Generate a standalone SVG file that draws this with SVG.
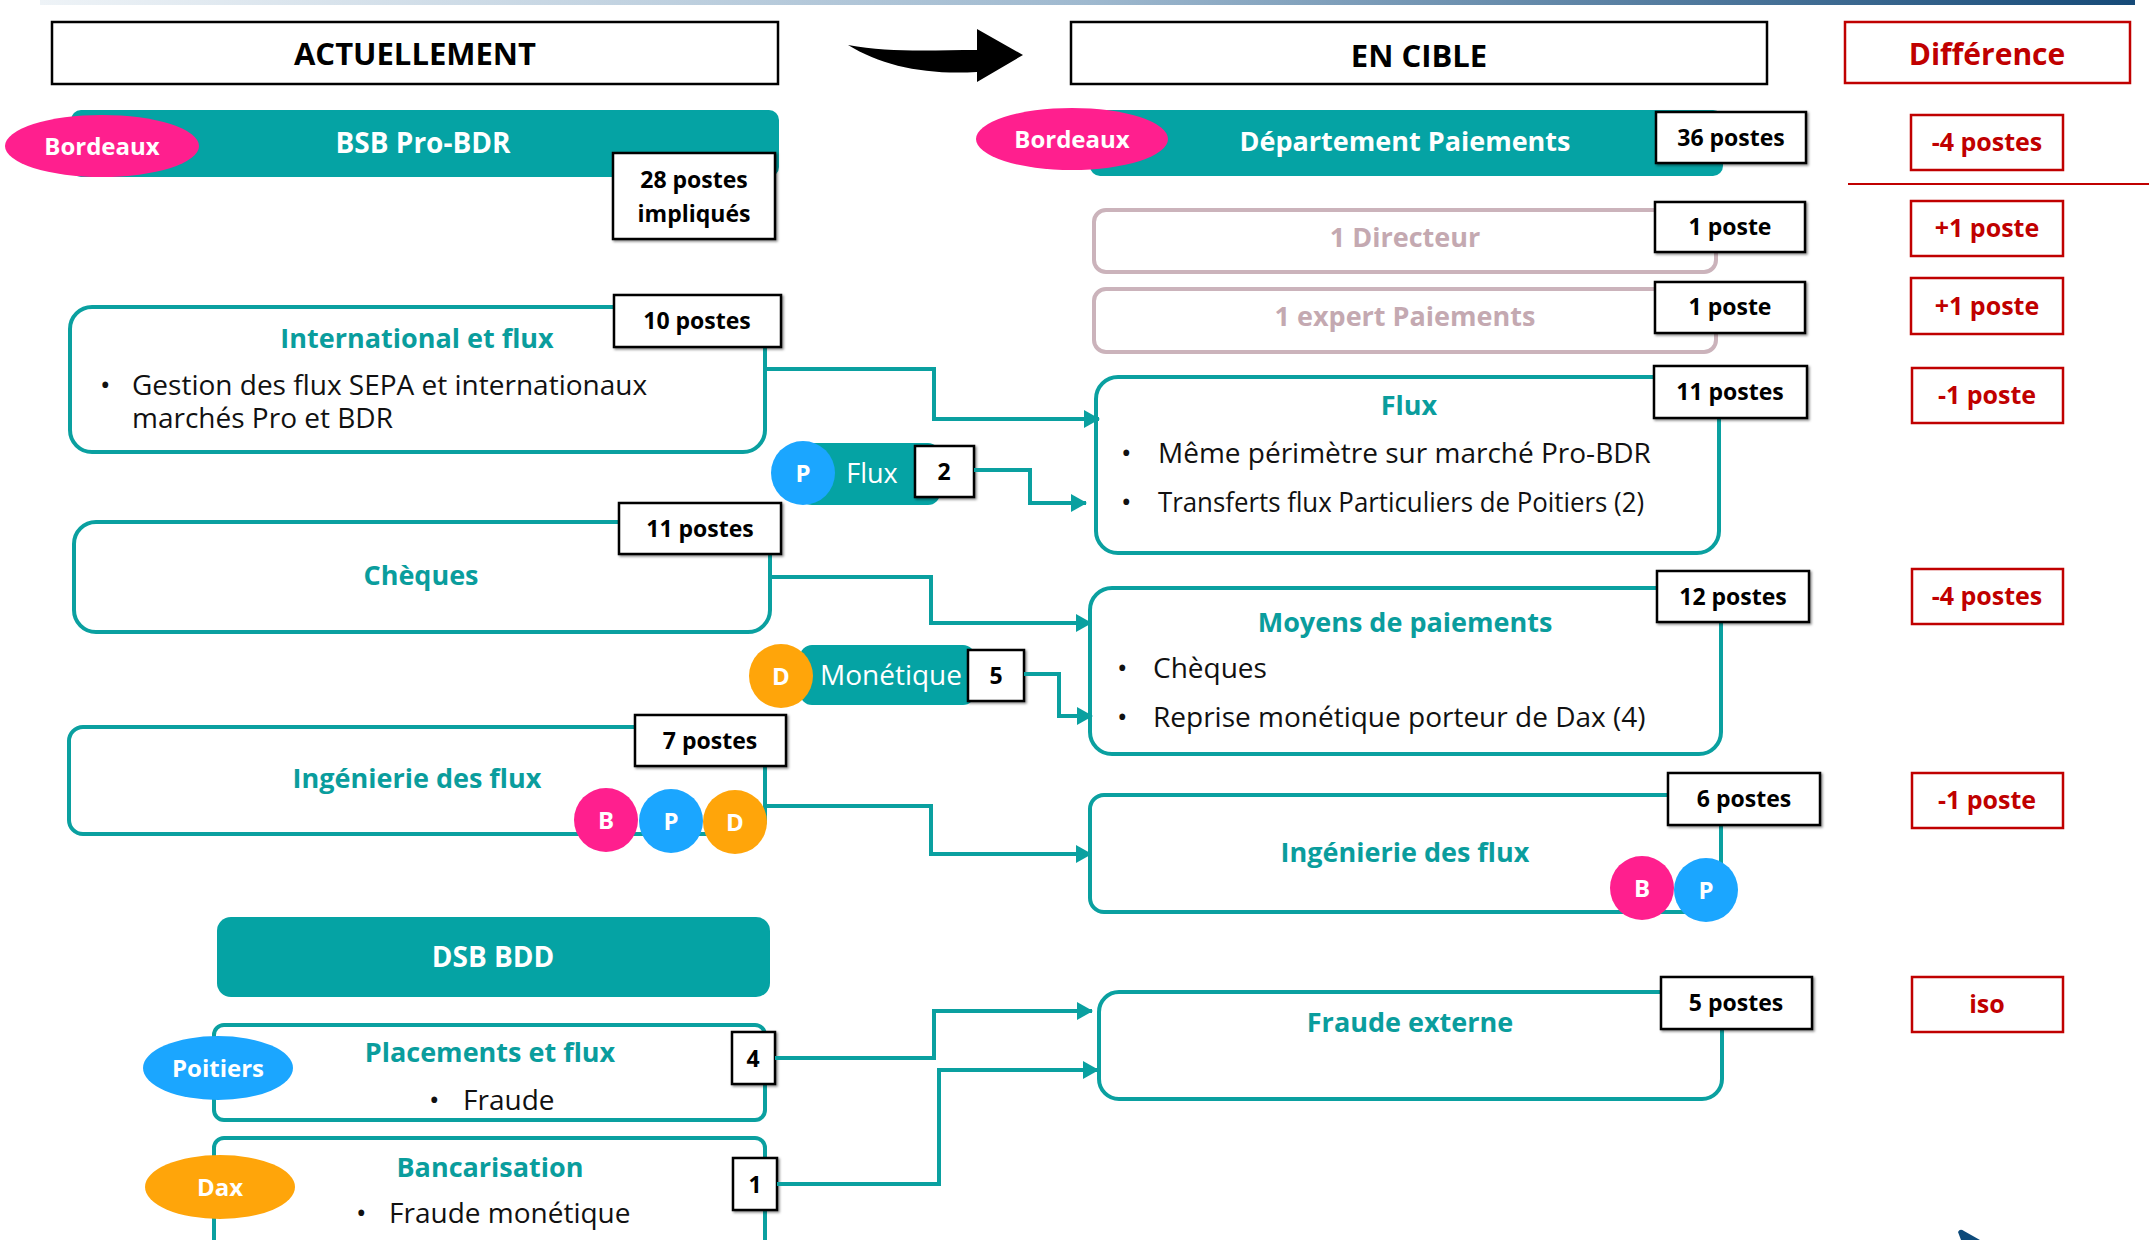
<svg xmlns="http://www.w3.org/2000/svg" width="2156" height="1240" viewBox="0 0 2156 1240">
  <defs>
    <linearGradient id="topBar" x1="0" y1="0" x2="1" y2="0">
      <stop offset="0" stop-color="#eef3f7"/>
      <stop offset="0.5" stop-color="#9fb9cf"/>
      <stop offset="1" stop-color="#164a78"/>
    </linearGradient>
    <marker id="arrow" viewBox="0 0 16 18" refX="15" refY="9" markerWidth="16" markerHeight="18" markerUnits="userSpaceOnUse" orient="auto">
      <path d="M0,0 L16,9 L0,18 Z" fill="#0aa0a0"/>
    </marker>
    <filter id="shadow" x="-10%" y="-10%" width="130%" height="130%">
      <feDropShadow dx="1.5" dy="1.5" stdDeviation="0.8" flood-color="#000" flood-opacity="0.45"/>
    </filter>
  </defs>
  <style>
    text { font-family: "Open Sans", "Noto Sans", "Liberation Sans", sans-serif; }
    .hdr { fill: #fff; stroke: #000; stroke-width: 2.5; }
    .hdrTxt { font-size: 31px; font-weight: 700; fill: #000; text-anchor: middle; }
    .redBox { fill: #fff; stroke: #c00000; stroke-width: 2.5; }
    .redTxt { font-size: 25px; font-weight: 700; fill: #c00000; text-anchor: middle; }
    .cnt { fill: #fff; stroke: #000; stroke-width: 2.5; filter: url(#shadow); }
    .cntTxt { font-size: 23px; font-weight: 700; fill: #000; text-anchor: middle; }
    .bar { fill: #05a3a4; }
    .barTxt { font-size: 28px; font-weight: 700; fill: #fff; text-anchor: middle; }
    .box { fill: #fff; stroke: #0aa0a0; stroke-width: 4; }
    .ghost { fill: #fff; stroke: #cbb3bb; stroke-width: 4; }
    .ghostTxt { font-size: 27px; font-weight: 700; fill: #c4a9b1; text-anchor: middle; }
    .title { font-size: 27px; font-weight: 700; fill: #0a9d9d; text-anchor: middle; }
    .body { font-size: 28px; fill: #111; }
    .badgeTxt { font-size: 24px; font-weight: 700; fill: #fff; text-anchor: middle; }
    .pillTxt { font-size: 27px; fill: #fff; text-anchor: middle; }
    .pink { fill: #ff1f8e; }
    .blue { fill: #1ba6ff; }
    .orange { fill: #ffa50a; }
    .link { fill: none; stroke: #0aa0a0; stroke-width: 4; marker-end: url(#arrow); }
  </style>

  <rect width="2156" height="1240" fill="#fff"/>
  <rect x="40" y="0" width="2095" height="5" fill="url(#topBar)"/>
  <path d="M1958,1232 Q1960,1228 1964,1231 L1980,1240 L1961,1240 Z" fill="#0d4a7a"/>

  <!-- column headers -->
  <g id="hdr-actuellement">
    <rect class="hdr" x="52" y="22" width="726" height="62"/>
    <text class="hdrTxt" x="415" y="65">ACTUELLEMENT</text>
  </g>
  <path id="transition-arrow" d="M848,45 C890,53 935,50 977,50 L977,29 L1023,55 L977,82 L977,72 C925,75 882,66 848,45 Z" fill="#000"/>
  <g id="hdr-cible">
    <rect class="hdr" x="1071" y="22" width="696" height="62"/>
    <text class="hdrTxt" x="1419" y="67">EN CIBLE</text>
  </g>
  <g id="hdr-difference">
    <rect class="redBox" x="1845" y="22" width="285" height="61"/>
    <text class="redTxt" x="1987" y="65" style="font-size:30px">Différence</text>
  </g>

  <!-- current organisation -->
  <g id="bsb-pro-bdr">
    <rect class="bar" x="71" y="110" width="708" height="67" rx="10"/>
    <ellipse class="pink" cx="102" cy="146" rx="97" ry="31"/>
    <text class="badgeTxt" x="102" y="155">Bordeaux</text>
    <text class="barTxt" x="423" y="153">BSB Pro-BDR</text>
    <rect class="cnt" x="613" y="153" width="162" height="86"/>
    <text class="cntTxt" x="694" y="188">28 postes<tspan x="694" y="222">impliqués</tspan></text>
  </g>

  <g id="international-flux">
    <rect class="box" x="70" y="307" width="695" height="145" rx="22"/>
    <text class="title" x="417" y="348">International et flux</text>
    <text class="body" x="100" y="395">•</text>
    <text class="body" x="132" y="395">Gestion des flux SEPA et internationaux<tspan x="132" y="428">marchés Pro et BDR</tspan></text>
    <rect class="cnt" x="614" y="295" width="167" height="52"/>
    <text class="cntTxt" x="697" y="329">10 postes</text>
  </g>

  <g id="pill-flux">
    <rect class="bar" x="800" y="443" width="140" height="62" rx="12"/>
    <circle class="blue" cx="803" cy="473" r="32"/>
    <text class="badgeTxt" x="803" y="482">P</text>
    <text class="pillTxt" x="872" y="483">Flux</text>
    <rect class="cnt" x="915" y="446" width="59" height="51"/>
    <text class="cntTxt" x="944" y="480">2</text>
  </g>

  <g id="cheques">
    <rect class="box" x="74" y="522" width="696" height="110" rx="22"/>
    <text class="title" x="421" y="585">Chèques</text>
    <rect class="cnt" x="619" y="503" width="162" height="51"/>
    <text class="cntTxt" x="700" y="537">11 postes</text>
  </g>

  <g id="pill-monetique">
    <rect class="bar" x="800" y="645" width="175" height="60" rx="12"/>
    <circle class="orange" cx="781" cy="676" r="32"/>
    <text class="badgeTxt" x="781" y="685">D</text>
    <text class="pillTxt" x="891" y="685" style="font-size:28px">Monétique</text>
    <rect class="cnt" x="968" y="650" width="56" height="51"/>
    <text class="cntTxt" x="996" y="684">5</text>
  </g>

  <g id="ingenierie-actuelle">
    <rect class="box" x="69" y="727" width="696" height="107" rx="14"/>
    <text class="title" x="417" y="788">Ingénierie des flux</text>
    <rect class="cnt" x="635" y="715" width="151" height="51"/>
    <text class="cntTxt" x="710" y="749">7 postes</text>
    <circle class="pink" cx="606" cy="820" r="32"/>
    <text class="badgeTxt" x="606" y="829">B</text>
    <circle class="blue" cx="671" cy="821" r="32"/>
    <text class="badgeTxt" x="671" y="830">P</text>
    <circle class="orange" cx="735" cy="822" r="32"/>
    <text class="badgeTxt" x="735" y="831">D</text>
  </g>

  <g id="dsb-bdd">
    <rect class="bar" x="217" y="917" width="553" height="80" rx="14"/>
    <text class="barTxt" x="493" y="967">DSB BDD</text>
  </g>

  <g id="placements-flux">
    <rect class="box" x="214" y="1025" width="551" height="95" rx="10"/>
    <ellipse class="blue" cx="218" cy="1068" rx="75" ry="32"/>
    <text class="badgeTxt" x="218" y="1077">Poitiers</text>
    <text class="title" x="490" y="1062">Placements et flux</text>
    <text class="body" x="429" y="1110">•</text>
    <text class="body" x="463" y="1110">Fraude</text>
    <rect class="cnt" x="732" y="1032" width="43" height="52"/>
    <text class="cntTxt" x="753" y="1067">4</text>
  </g>

  <g id="bancarisation">
    <rect class="box" x="214" y="1138" width="551" height="120" rx="10"/>
    <ellipse class="orange" cx="220" cy="1187" rx="75" ry="32"/>
    <text class="badgeTxt" x="220" y="1196">Dax</text>
    <text class="title" x="490" y="1177">Bancarisation</text>
    <text class="body" x="356" y="1223">•</text>
    <text class="body" x="389" y="1223">Fraude monétique</text>
    <rect class="cnt" x="733" y="1158" width="44" height="52"/>
    <text class="cntTxt" x="755" y="1193">1</text>
  </g>

  <!-- target organisation -->
  <g id="departement-paiements">
    <rect class="bar" x="1090" y="110" width="633" height="66" rx="10"/>
    <ellipse class="pink" cx="1072" cy="139" rx="96" ry="31"/>
    <text class="badgeTxt" x="1072" y="148">Bordeaux</text>
    <text class="barTxt" x="1405" y="151" style="font-size:27px">Département Paiements</text>
    <rect class="cnt" x="1656" y="112" width="150" height="51"/>
    <text class="cntTxt" x="1731" y="146">36 postes</text>
  </g>
  <g id="diff-total">
    <rect class="redBox" x="1911" y="115" width="152" height="55"/>
    <text class="redTxt" x="1987" y="151">-4 postes</text>
  </g>
  <line x1="1848" y1="184" x2="2149" y2="184" stroke="#c00000" stroke-width="2"/>

  <g id="directeur">
    <rect class="ghost" x="1094" y="210" width="622" height="62" rx="12"/>
    <text class="ghostTxt" x="1405" y="247">1 Directeur</text>
    <rect class="cnt" x="1655" y="202" width="150" height="50"/>
    <text class="cntTxt" x="1730" y="235">1 poste</text>
  </g>
  <g id="diff-directeur">
    <rect class="redBox" x="1911" y="201" width="152" height="55"/>
    <text class="redTxt" x="1987" y="237">+1 poste</text>
  </g>

  <g id="expert-paiements">
    <rect class="ghost" x="1094" y="289" width="622" height="63" rx="12"/>
    <text class="ghostTxt" x="1405" y="326">1 expert Paiements</text>
    <rect class="cnt" x="1655" y="282" width="150" height="51"/>
    <text class="cntTxt" x="1730" y="315">1 poste</text>
  </g>
  <g id="diff-expert">
    <rect class="redBox" x="1911" y="278" width="152" height="56"/>
    <text class="redTxt" x="1987" y="315">+1 poste</text>
  </g>

  <g id="flux-cible">
    <rect class="box" x="1096" y="377" width="623" height="176" rx="22"/>
    <text class="title" x="1409" y="415">Flux</text>
    <text class="body" x="1121" y="463">•</text>
    <text class="body" x="1158" y="463">Même périmètre sur marché Pro-BDR</text>
    <text class="body" x="1121" y="512">•</text>
    <text class="body" x="1158" y="512" textLength="486" lengthAdjust="spacingAndGlyphs">Transferts flux Particuliers de Poitiers (2)</text>
    <rect class="cnt" x="1654" y="366" width="153" height="52"/>
    <text class="cntTxt" x="1730" y="400">11 postes</text>
  </g>
  <g id="diff-flux">
    <rect class="redBox" x="1912" y="368" width="151" height="55"/>
    <text class="redTxt" x="1987" y="404">-1 poste</text>
  </g>

  <g id="moyens-paiements">
    <rect class="box" x="1090" y="588" width="631" height="166" rx="22"/>
    <text class="title" x="1405" y="632">Moyens de paiements</text>
    <text class="body" x="1117" y="678">•</text>
    <text class="body" x="1153" y="678">Chèques</text>
    <text class="body" x="1117" y="727">•</text>
    <text class="body" x="1153" y="727">Reprise monétique porteur de Dax (4)</text>
    <rect class="cnt" x="1657" y="571" width="152" height="51"/>
    <text class="cntTxt" x="1733" y="605">12 postes</text>
  </g>
  <g id="diff-moyens">
    <rect class="redBox" x="1912" y="569" width="151" height="55"/>
    <text class="redTxt" x="1987" y="605">-4 postes</text>
  </g>

  <g id="ingenierie-cible">
    <rect class="box" x="1090" y="795" width="631" height="117" rx="14"/>
    <text class="title" x="1405" y="862">Ingénierie des flux</text>
    <rect class="cnt" x="1668" y="773" width="152" height="52"/>
    <text class="cntTxt" x="1744" y="807">6 postes</text>
    <circle class="pink" cx="1642" cy="888" r="32"/>
    <text class="badgeTxt" x="1642" y="897">B</text>
    <circle class="blue" cx="1706" cy="890" r="32"/>
    <text class="badgeTxt" x="1706" y="899">P</text>
  </g>
  <g id="diff-ingenierie">
    <rect class="redBox" x="1912" y="773" width="151" height="55"/>
    <text class="redTxt" x="1987" y="809">-1 poste</text>
  </g>

  <g id="fraude-externe">
    <rect class="box" x="1099" y="992" width="623" height="107" rx="20"/>
    <text class="title" x="1410" y="1032">Fraude externe</text>
    <rect class="cnt" x="1661" y="977" width="151" height="52"/>
    <text class="cntTxt" x="1736" y="1011">5 postes</text>
  </g>
  <g id="diff-fraude">
    <rect class="redBox" x="1912" y="977" width="151" height="55"/>
    <text class="redTxt" x="1987" y="1013">iso</text>
  </g>

  <!-- transfers between current and target teams -->
  <g id="connectors">
    <polyline class="link" points="765,369 934,369 934,419 1099,419"/>
    <polyline class="link" points="974,470 1030,470 1030,503 1086,503"/>
    <polyline class="link" points="770,577 931,577 931,623 1091,623"/>
    <polyline class="link" points="1024,674 1059,674 1059,716 1092,716"/>
    <polyline class="link" points="767,806 931,806 931,854 1091,854"/>
    <polyline class="link" points="775,1058 934,1058 934,1011 1092,1011"/>
    <polyline class="link" points="777,1184 939,1184 939,1070 1098,1070"/>
  </g>
</svg>
